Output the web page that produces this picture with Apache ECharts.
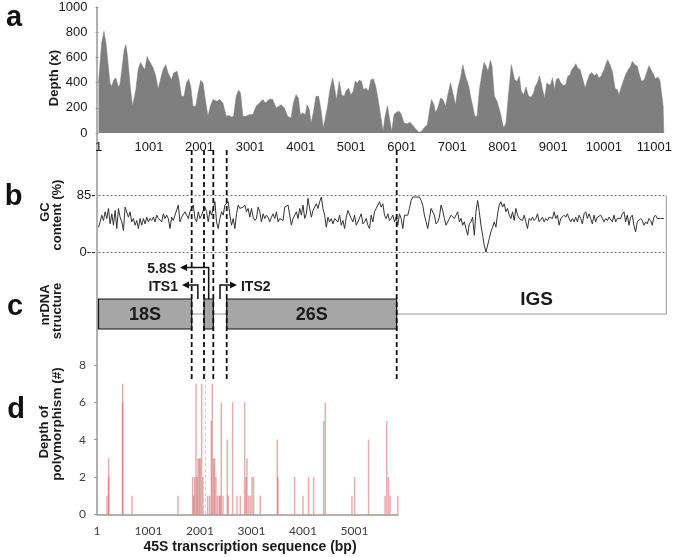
<!DOCTYPE html>
<html><head><meta charset="utf-8">
<script src="https://cdn.jsdelivr.net/npm/echarts@6/dist/echarts.min.js"></script>
<style>html,body{margin:0;padding:0;background:#fff}#c{width:675px;height:557px}</style>
</head><body><div id="c"></div>
<script>
// ---------- DATA ----------
// a: read depth (x) along the rDNA unit (bp)
const depthPos = [1,62,108,148,194,227,259,305,345,391,424,470,509,542,575,621,674,700,739,785,831,871,917,963,989,1029,1081,1134,1180,1226,1279,1331,1377,1410,1443,1489,1555,1594,1640,1693,1739,1785,1824,1870,1923,1969,2021,2068,2114,2166,2212,2265,2298,2344,2396,2462,2495,2528,2580,2626,2672,2725,2771,2810,2857,2922,2988,3054,3120,3185,3251,3304,3383,3448,3514,3613,3678,3744,3777,
3810,3856,3909,3955,3994,4040,4093,4126,4172,4205,4251,4303,4356,4402,4448,4487,4533,4579,4632,4665,4711,4764,4810,4862,4895,4948,4994,5040,5079,5125,5158,5204,5243,5290,5342,5388,5441,5487,5533,5585,5631,5671,5717,5763,5802,5848,5894,5947,5993,6046,6111,6164,6210,6276,6342,6394,6440,6506,6552,6591,6637,6670,6723,6769,6815,6868,6920,6966,7012,7065,7111,7163,7209,7262,7328,
7360,7406,7445,7491,7537,7590,7629,7669,7708,7754,7787,7833,7886,7952,8017,8063,8116,8169,8201,8234,8280,8326,8366,8412,8458,8511,8563,8609,8642,8688,8727,8760,8787,8826,8872,8905,8938,8984,9023,9056,9102,9148,9201,9247,9286,9332,9365,9418,9444,9484,9530,9576,9628,9681,9714,9760,9812,9858,9904,9944,9990,10036,10075,10121,10167,10220,10266,10299,10338,10384,10430,10483,10529,10562,10615,10661,10693,10746,10799,10845,10891,10930,10976,11022,11062,11108,11141,11173,11186];
const depthVal = [400,714,807,714,529,397,370,423,437,365,384,529,661,701,608,397,212,212,344,503,561,529,503,608,582,556,516,450,349,423,503,542,476,463,423,476,490,423,291,291,397,429,370,212,212,318,418,397,265,132,212,265,278,251,265,238,185,132,138,127,132,291,339,318,132,132,146,146,212,238,265,238,270,265,198,225,198,132,119,
119,238,304,278,146,159,146,225,185,79,159,291,291,185,40,53,212,344,437,370,265,410,304,291,331,357,304,331,410,397,418,410,344,357,331,423,429,370,265,132,13,132,217,106,13,146,164,172,146,79,74,85,66,32,5,13,40,66,185,265,225,159,212,278,265,212,318,397,318,225,357,437,542,450,370,
291,212,132,132,344,476,561,529,490,577,529,291,251,159,40,79,318,542,556,423,410,450,331,304,365,291,286,318,370,402,455,397,344,278,397,410,376,437,344,423,437,397,376,384,450,463,503,529,550,516,503,437,357,423,463,481,455,471,437,450,490,542,582,542,490,357,344,304,357,410,463,503,529,569,542,529,476,410,423,476,534,503,471,429,445,423,437,212,0];

// b: GC content (%) in sliding windows
const gcStart = 0, gcStep = 32.8;
const gcVal = [38,46,56,48,61,51,66,43,58,41,63,36,66,53,46,33,68,66,53,61,46,51,41,48,36,51,41,51,43,53,46,51,48,53,46,56,51,53,46,58,51,56,51,36,53,48,56,58,71,46,53,51,61,56,51,61,66,71,51,46,61,51,56,63,68,61,46,63,56,66,76,46,36,51,61,56,71,73,76,56,41,51,36,58,71,66,68,68,71,61,66,53,66,53,48,51,68,61,46,58,51,56,53,46,53,58,51,61,46,51,
51,48,68,66,71,56,41,51,53,61,51,66,56,71,51,58,81,66,53,63,61,73,66,76,83,66,56,38,53,46,51,43,51,53,46,56,41,48,36,53,63,61,51,46,56,41,46,48,58,43,46,51,41,36,56,46,61,66,71,76,68,73,56,51,58,48,51,56,46,53,41,58,51,36,56,58,56,66,78,83,81,83,81,83,78,71,56,46,36,51,66,68,56,43,46,53,71,63,51,41,46,51,56,58,51,53,61,46,51,41,46,36,26,43,
46,53,26,61,78,61,41,26,11,1,1,21,31,38,46,38,58,71,76,68,73,61,66,56,51,61,48,66,56,51,53,48,56,46,36,51,48,53,48,51,58,46,48,53,46,51,48,53,51,51,61,51,56,41,51,53,56,53,58,51,46,51,46,53,46,56,51,43,58,61,51,58,51,43,56,46,53,51,56,51,46,51,48,53,51,46,56,46,51,53,51,58,61,46,56,41,53,56,41,31,46,46,51,48,41,46,43,51,48,41,53,56,51,53,51,52,51];

// c: nrDNA structure (bp)
const regionNames = ['18S', '5.8S', '26S', 'IGS'];
const regionStart = [0, 2081, 2529, 5882];
const regionEnd = [1838, 2265, 5882, 11200];
const boundaries = [1838, 2081, 2265, 2529, 5882];
const annoLabels = ['5.8S', 'ITS1', 'ITS2'];
const annoAnchor = [2173, 1960, 2397];
const annoTip = [1609, 1647, 2731];
const annoLevel = [2.6, 2, 2];

// d: depth of polymorphism along 45S transcript
const polyPos = [194,226,226,498,498,679,1572,1857,1876,1896,1922,1941,1961,1986,2006,2032,2058,2148,2187,2219,2239,2265,2284,2310,2342,2375,2394,2414,2446,2530,2550,2634,2718,2783,2867,2893,2912,2944,2977,3009,3041,3171,3501,3514,3838,3999,4109,4207,4401,4433,4951,5003,5274,5594,5627,5660,5692,5841];
const polyVal = [1,3,2,7,6,1,1,2,1,2,7,2,3,3,3,7,2,1,1,5,7,3,3,2,1,1,1,6,1,4,1,6,1,1,6,2,3,1,1,2,2,1,4,2,2,1,2,2,5,6,1,2,4,1,5,2,1,1];
const polyGuide = 2111;

// ---------- CHART ----------
const FONT = '"Liberation Sans", Arial, sans-serif';
const XMAX = 11200, DMAX = 5845;
const chart = echarts.init(document.getElementById('c'), null, {renderer: 'canvas'});
const tickFmt = v => (v % 1000 === 0 ? String(v + 1) : '');
const hiddenX = (g, max) => ({gridIndex: g, type: 'value', min: 0, max: max, show: false});
const hiddenY = (g, min, max) => ({gridIndex: g, type: 'value', min: min, max: max, show: false});

const option = {
  animation: false,
  backgroundColor: '#fff',
  grid: [
    {left: 98.5, top: 7, width: 567.8, height: 126},
    {left: 98.5, top: 195.7, width: 567.8, height: 57},
    {left: 98.5, top: 256, width: 567.8, height: 87},
    {left: 97, top: 365, width: 301, height: 149.3},
    {left: 98.5, top: 150, width: 567.8, height: 229},
    {left: 97, top: 7, width: 1, height: 507.3}
  ],
  xAxis: [
    {gridIndex: 0, type: 'value', min: 0, max: XMAX, interval: 1000,
     axisLine: {show: false}, axisTick: {show: false}, splitLine: {show: false},
     axisLabel: {formatter: tickFmt, fontSize: 13, color: '#1a1a1a', fontFamily: FONT, margin: 8, showMaxLabel: false}},
    hiddenX(1, XMAX),
    hiddenX(2, XMAX),
    {gridIndex: 3, type: 'value', min: 0, max: DMAX, interval: 1000,
     axisLine: {show: true, lineStyle: {color: '#999', width: 1.5}}, axisTick: {show: false}, splitLine: {show: false},
     axisLabel: {formatter: tickFmt, fontSize: 12, color: '#404040', fontFamily: 'Lato', margin: 11, showMaxLabel: false}},
    hiddenX(4, XMAX),
    hiddenX(5, 1)
  ],
  yAxis: [
    {gridIndex: 0, type: 'value', min: 0, max: 1000, interval: 200,
     axisLine: {show: false}, axisTick: {show: true, length: 3, lineStyle: {color: '#999'}}, splitLine: {show: false},
     axisLabel: {formatter: v => String(v), fontSize: 13, color: '#1a1a1a', fontFamily: FONT, margin: 11}},
    {gridIndex: 1, type: 'value', min: 0, max: 85, interval: 85,
     axisLine: {show: false}, axisTick: {show: false},
     splitLine: {show: true, lineStyle: {type: [2, 2], color: '#777', width: 1}},
     axisLabel: {formatter: v => (v === 85 ? '85-' : '0--'), fontSize: 13, color: '#1a1a1a', fontFamily: FONT, margin: 3}},
    hiddenY(2, 0, 3),
    {gridIndex: 3, type: 'value', min: 0, max: 8, interval: 2,
     axisLine: {show: false}, axisTick: {show: true, length: 3, lineStyle: {color: '#999'}}, splitLine: {show: false},
     axisLabel: {fontSize: 12, color: '#404040', fontFamily: 'Lato', margin: 11}},
    hiddenY(4, 0, 1),
    {gridIndex: 5, type: 'value', min: 0, max: 1,
     axisLine: {show: true, onZero: false, lineStyle: {color: '#999', width: 1.5}},
     axisTick: {show: false}, axisLabel: {show: false}, splitLine: {show: false}}
  ],
  series: [
    {type: 'line', xAxisIndex: 0, yAxisIndex: 0, silent: true,
     data: depthPos.map((x, i) => [x, depthVal[i]]),
     symbol: 'none', lineStyle: {width: 0.5, color: '#7f7f7f'}, areaStyle: {color: '#7f7f7f', opacity: 1}},
    {type: 'line', xAxisIndex: 1, yAxisIndex: 1, silent: true,
     data: gcVal.map((v, i) => [gcStart + i * gcStep, v]),
     symbol: 'none', lineStyle: {width: 1, color: '#333'}},
    {type: 'line', xAxisIndex: 2, yAxisIndex: 2, silent: true, z: 1,
     data: [[regionStart[0], 1], [regionEnd[regionEnd.length - 1], 1]],
     symbol: 'none', lineStyle: {width: 1, color: '#999'}},
    {type: 'custom', xAxisIndex: 2, yAxisIndex: 2, silent: true, z: 3,
     data: regionNames.map((n, i) => [regionStart[i], regionEnd[i], i]),
     renderItem: (params, api) => {
       const i = api.value(2);
       const s = api.coord([api.value(0), 1]);
       const e = api.coord([api.value(1), 1]);
       const name = regionNames[i];
       if (name === 'IGS') {
         return {type: 'group', children: [
           {type: 'line', shape: {x1: e[0], y1: e[1], x2: e[0], y2: e[1] - 118.3}, style: {stroke: '#999', lineWidth: 1}},
           {type: 'text', style: {text: name, x: (s[0] + e[0]) / 2 + 5, y: e[1] - 14, align: 'center', verticalAlign: 'middle', font: 'bold 19px ' + FONT, fill: '#1a1a1a'}}
         ]};
       }
       const h = 30;
       const ch = [{type: 'rect', shape: {x: s[0], y: s[1] - h / 2, width: e[0] - s[0], height: h},
                    style: {fill: '#a6a6a6', stroke: '#111', lineWidth: 1.2}}];
       if (e[0] - s[0] > 40) {
         ch.push({type: 'text', style: {text: name, x: (s[0] + e[0]) / 2, y: s[1] + 1, align: 'center', verticalAlign: 'middle', font: 'bold 18px ' + FONT, fill: '#1a1a1a'}});
       }
       return {type: 'group', children: ch};
     }},
    {type: 'custom', xAxisIndex: 2, yAxisIndex: 2, silent: true, z: 4,
     data: annoLabels.map((l, i) => [annoAnchor[i], annoTip[i], annoLevel[i], i]),
     renderItem: (params, api) => {
       const a = api.coord([api.value(0), api.value(2)]);
       const t = api.coord([api.value(1), api.value(2)]);
       const base = api.coord([api.value(0), 1]);
       const y0 = base[1] - 15;
       const dir = t[0] < a[0] ? -1 : 1;
       const head = 7;
       return {type: 'group', children: [
         {type: 'polyline', shape: {points: [[a[0], y0], [a[0], a[1]], [t[0] - dir * head, a[1]]]}, style: {stroke: '#111', lineWidth: 1.5, fill: null}},
         {type: 'polygon', shape: {points: [[t[0], a[1]], [t[0] - dir * head, a[1] - 3.5], [t[0] - dir * head, a[1] + 3.5]]}, style: {fill: '#111'}},
         {type: 'text', style: {text: annoLabels[api.value(3)], x: t[0] + dir * 4, y: a[1] + 2, align: dir < 0 ? 'right' : 'left', verticalAlign: 'middle', font: 'bold 14px ' + FONT, fill: '#1a1a1a'}}
       ]};
     }},
    {type: 'bar', xAxisIndex: 3, yAxisIndex: 3, silent: true,
     data: polyPos.map((x, i) => [x, polyVal[i]]),
     barWidth: 1.5, itemStyle: {color: 'rgba(192,80,77,0.45)'},
     markLine: {silent: true, symbol: 'none', label: {show: false},
       lineStyle: {color: '#d4d4d4', type: 'dashed', width: 1}, data: [{xAxis: polyGuide}]}},
    {type: 'custom', xAxisIndex: 4, yAxisIndex: 4, silent: true, z: 10,
     data: boundaries.map(b => [b, 0]),
     renderItem: (params, api) => {
       const top = api.coord([api.value(0), 1]);
       const bot = api.coord([api.value(0), 0]);
       return {type: 'line', shape: {x1: top[0], y1: top[1], x2: bot[0], y2: bot[1]},
               style: {stroke: '#111', lineWidth: 1.8, lineDash: [5, 3]}};
     }}
  ],
  graphic: [
    {type: 'text', x: 14, y: 18, style: {text: 'a', font: 'bold 29px ' + FONT, fill: '#111', align: 'center', verticalAlign: 'middle'}},
    {type: 'text', x: 13.5, y: 197, style: {text: 'b', font: 'bold 29px ' + FONT, fill: '#111', align: 'center', verticalAlign: 'middle'}},
    {type: 'text', x: 15, y: 307, style: {text: 'c', font: 'bold 29px ' + FONT, fill: '#111', align: 'center', verticalAlign: 'middle'}},
    {type: 'text', x: 16, y: 410, style: {text: 'd', font: 'bold 29px ' + FONT, fill: '#111', align: 'center', verticalAlign: 'middle'}},
    {type: 'text', x: 54, y: 78, rotation: Math.PI / 2, style: {text: 'Depth (x)', font: 'bold 13px ' + FONT, fill: '#1a1a1a', align: 'center', verticalAlign: 'middle'}},
    {type: 'text', x: 45, y: 212, rotation: Math.PI / 2, style: {text: 'GC', font: 'bold 13px ' + FONT, fill: '#1a1a1a', align: 'center', verticalAlign: 'middle'}},
    {type: 'text', x: 57, y: 215, rotation: Math.PI / 2, style: {text: 'content (%)', font: 'bold 13px ' + FONT, fill: '#1a1a1a', align: 'center', verticalAlign: 'middle'}},
    {type: 'text', x: 45, y: 305, rotation: Math.PI / 2, style: {text: 'nrDNA', font: 'bold 13px ' + FONT, fill: '#1a1a1a', align: 'center', verticalAlign: 'middle'}},
    {type: 'text', x: 57, y: 311, rotation: Math.PI / 2, style: {text: 'structure', font: 'bold 13px ' + FONT, fill: '#1a1a1a', align: 'center', verticalAlign: 'middle'}},
    {type: 'text', x: 44, y: 432, rotation: Math.PI / 2, style: {text: 'Depth of', font: 'bold 13px ' + FONT, fill: '#1a1a1a', align: 'center', verticalAlign: 'middle'}},
    {type: 'text', x: 57, y: 424, rotation: Math.PI / 2, style: {text: 'polymorphism (#)', font: 'bold 13.5px ' + FONT, fill: '#1a1a1a', align: 'center', verticalAlign: 'middle'}},
    {type: 'text', x: 250, y: 547, style: {text: '45S transcription sequence (bp)', font: 'bold 14px ' + FONT, fill: '#1a1a1a', align: 'center', verticalAlign: 'middle'}}
  ]
};
chart.setOption(option);
</script>
</body></html>
